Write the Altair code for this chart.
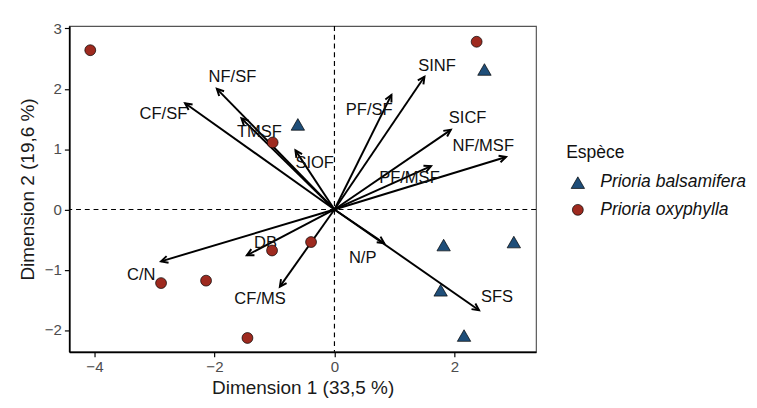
import altair as alt
import pandas as pd

# Individuals (PCA scores)
species = (["Prioria oxyphylla"] * 8) + (["Prioria balsamifera"] * 6)
ind_x = [-4.07, 2.37, -1.03, -0.39, -1.04, -2.89, -2.14, -1.45,
         -0.61, 2.50, 1.82, 2.99, 1.77, 2.16]
ind_y = [2.64, 2.78, 1.11, -0.54, -0.68, -1.22, -1.18, -2.13,
         1.41, 2.32, -0.59, -0.54, -1.34, -2.09]

# Variables (arrow tips and label positions)
var_names = ["CF/SF", "NF/SF", "TMSF", "SIOF", "PF/SF", "SINF", "SICF",
             "NF/MSF", "PF/MSF", "N/P", "SFS", "C/N", "DB", "CF/MS"]
var_x = [-2.49, -1.96, -1.55, -0.65, 0.95, 1.50, 1.94, 2.86, 1.61, 0.83, 2.41, -2.89, -1.46, -0.91]
var_y = [1.76, 2.00, 1.51, 0.98, 1.90, 2.20, 1.32, 0.87, 0.72, -0.56, -1.67, -0.86, -0.76, -1.28]
lab_x = [-2.85, -1.70, -1.25, -0.33, 0.58, 1.71, 2.22, 2.48, 1.25, 0.47, 2.71, -3.22, -1.15, -1.24]
lab_y = [1.58, 2.20, 1.28, 0.77, 1.64, 2.38, 1.51, 1.05, 0.52, -0.80, -1.46, -1.09, -0.55, -1.49]

x_ticks = [-4, -2, 0, 2]
y_ticks = [-2, -1, 0, 1, 2, 3]
species_order = ["Prioria balsamifera", "Prioria oxyphylla"]

ind = pd.DataFrame({"x": ind_x, "y": ind_y, "Espèce": species})
var = pd.DataFrame({"name": var_names, "x": var_x, "y": var_y, "lx": lab_x, "ly": lab_y})
zero = pd.DataFrame({"v": [0]})

FONT = "Liberation Sans"
xs = alt.Scale(domain=[-4.42, 3.36], nice=False, zero=False)
ys = alt.Scale(domain=[-2.36, 3.04], nice=False, zero=False)

common_axis = dict(grid=False, format="d",
                   domainColor="black", domainWidth=1.8, tickColor="black", tickWidth=1.2,
                   tickSize=5, labelColor="#4d4d4d", labelFontSize=15.5, labelFont=FONT,
                   titleFont=FONT, titleFontSize=19.5, titleFontWeight="normal",
                   titleColor="#1a1a1a", labelPadding=3)
xaxis = alt.Axis(values=x_ticks, title="Dimension 1 (33,5 %)", titlePadding=4, **common_axis)
yaxis = alt.Axis(values=y_ticks, title="Dimension 2 (19,6 %)", titlePadding=7, **common_axis)

base_var = alt.Chart(var).transform_calculate(x0="0", y0="0")

shafts = base_var.mark_rule(color="black", strokeWidth=2).encode(
    x=alt.X("x0:Q", scale=xs, axis=xaxis), y=alt.Y("y0:Q", scale=ys, axis=yaxis),
    x2="x:Q", y2="y:Q")

vline = alt.Chart(zero).mark_rule(strokeDash=[5, 4], color="black", strokeWidth=1.2).encode(
    x=alt.X("v:Q", scale=xs))
hline = alt.Chart(zero).mark_rule(strokeDash=[5, 4], color="black", strokeWidth=1.2).encode(
    y=alt.Y("v:Q", scale=ys))

heads = base_var.transform_calculate(
    ang="(atan2(datum.x, datum.y) * 180 / PI + 360) % 360"
).mark_point(shape="M-0.7,1.4L0,0L0.7,1.4", filled=False, color="black",
             strokeWidth=2, size=100, opacity=1).encode(
    x=alt.X("x:Q", scale=xs), y=alt.Y("y:Q", scale=ys),
    angle=alt.Angle("ang:Q", scale=None))
labels = base_var.mark_text(font=FONT, fontSize=17, color="#111111").encode(
    x=alt.X("lx:Q", scale=xs), y=alt.Y("ly:Q", scale=ys), text="name:N")

legend = alt.Legend(title="Espèce", orient="none", legendX=511, legendY=122)

points = alt.Chart(ind).mark_point(filled=True, stroke="black",
                                   strokeWidth=0.7, opacity=1).encode(
    x=alt.X("x:Q", scale=xs), y=alt.Y("y:Q", scale=ys),
    shape=alt.Shape("Espèce:N", legend=legend,
                    scale=alt.Scale(domain=species_order, range=["triangle-up", "circle"])),
    fill=alt.Fill("Espèce:N", legend=legend,
                  scale=alt.Scale(domain=species_order, range=["#1f4e79", "#9e2a1f"])),
    size=alt.Size("Espèce:N", legend=legend,
                  scale=alt.Scale(domain=species_order, range=[190, 125])),
)

chart = alt.layer(shafts, vline, hline, labels, heads, points).properties(
    width=480, height=335,
    padding={"left": 10, "top": 8, "right": 2, "bottom": 0}
).configure_view(stroke="#555555", strokeWidth=1.2).configure_legend(
    titleFont=FONT, titleFontSize=18, titleFontWeight="normal", titleColor="#111111",
    labelFont=FONT, labelFontSize=18, labelFontStyle="italic", labelColor="#111111",
    rowPadding=10, titlePadding=12, symbolStrokeWidth=0.7, labelOffset=14, symbolOffset=3
)

chart.save("out.html", embed_options={"renderer": "svg", "actions": False})
